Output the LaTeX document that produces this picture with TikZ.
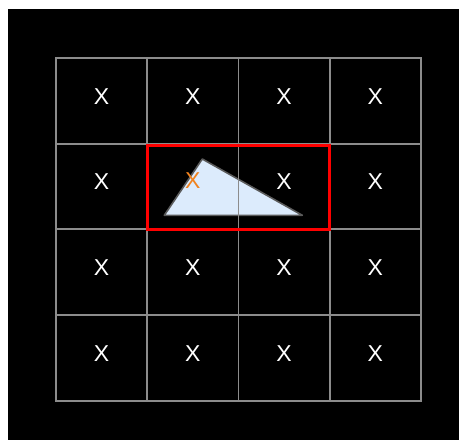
\documentclass[tikz,border=0pt]{standalone}
\usepackage{fontspec}
\setmainfont{Liberation Sans}
\usetikzlibrary{calc}
\definecolor{gridgray}{HTML}{8C8C8C}
\definecolor{triblue}{HTML}{DCEBFC}
\definecolor{triedge}{HTML}{5A5A5A}
\definecolor{xorange}{HTML}{F0821E}
\begin{document}
\begin{tikzpicture}[x=1pt,y=-1pt,
  cellbox/.style={draw=gridgray,line width=1.9pt,minimum width=91.25pt,minimum height=85.7pt,inner sep=0pt,outer sep=0pt},
  xlabel/.style={text=white,font=\fontsize{23}{23}\selectfont,inner sep=0pt},
  xhot/.style={xlabel,text=xorange}]
\useasboundingbox (0,0) rectangle (459,440);
\fill[white] (0,0) rectangle (459,440);
\fill[black] (8,9) rectangle (459,440);
\foreach \i in {0,1,2,3}{
  \foreach \j in {0,1,2,3}{
    \node[cellbox] (c-\i-\j) at ({56+91.25*\j+45.625},{58+85.7*\i+42.85}) {};
  }
}
% triangle
\coordinate (ta) at (202.3,159);
\coordinate (tb) at (164.3,215.3);
\coordinate (tc) at (302.3,215.3);
\draw[fill=triblue,draw=triedge,line width=1.6pt,line join=round] (ta) -- (tb) -- (tc) -- cycle;
% grid line showing through the triangle
\draw[gridgray,line width=1.9pt] (c-1-1.north east) -- (c-1-1.south east);
% red box
\coordinate (ra) at (147,145);
\coordinate (rb) at (329.5,229.3);
\draw[red,line width=3pt] (ra) rectangle (rb);
% labels
\foreach \i in {0,1,2,3}{
  \foreach \j in {0,1,2,3}{
    \ifnum\i=1 \ifnum\j=1 \else
      \node[xlabel] (x-\i-\j) at ($(c-\i-\j.center)+(0,-4.7)$) {X};
    \fi\else
      \node[xlabel] (x-\i-\j) at ($(c-\i-\j.center)+(0,-4.7)$) {X};
    \fi
  }
}
\node[xhot] (x-1-1) at ($(c-1-1.center)+(0,-5.5)$) {X};
\end{tikzpicture}
\end{document}
